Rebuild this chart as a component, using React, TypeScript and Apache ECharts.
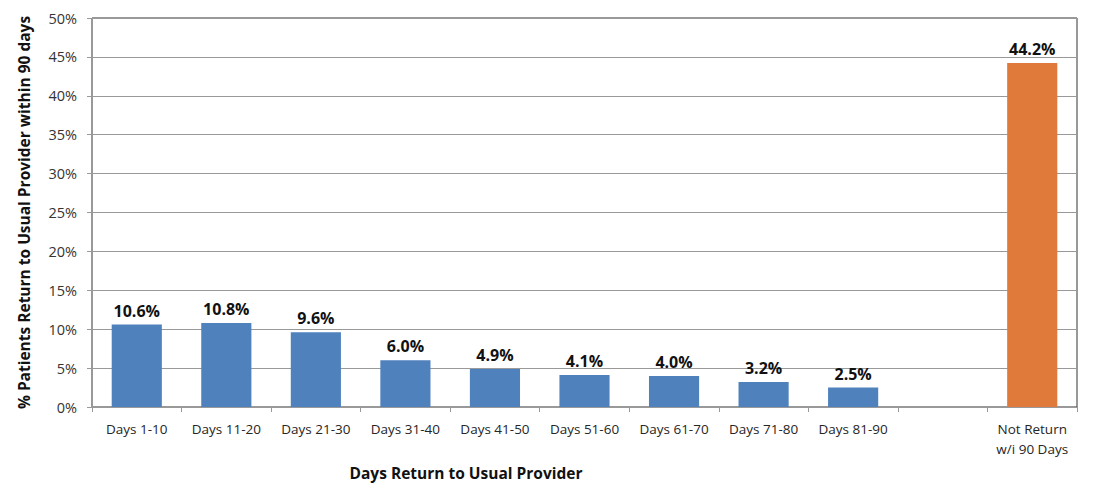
import React, { useEffect, useRef } from "react";
import * as echarts from "echarts";

const categories = [
  "Days 1-10",
  "Days 11-20",
  "Days 21-30",
  "Days 31-40",
  "Days 41-50",
  "Days 51-60",
  "Days 61-70",
  "Days 71-80",
  "Days 81-90",
  "",
  "Not Return\nw/i 90 Days",
];
const values: (number | null)[] = [10.6, 10.8, 9.6, 6.0, 4.9, 4.1, 4.0, 3.2, 2.5, null, 44.2];
const barColors = ["#4F81BD", "#4F81BD", "#4F81BD", "#4F81BD", "#4F81BD", "#4F81BD", "#4F81BD", "#4F81BD", "#4F81BD", "#4F81BD", "#E07A3A"];
const yTicks = { min: 0, max: 50, interval: 5 };

const FONT = "'Open Sans', 'Noto Sans', sans-serif";

export default function App() {
  const ref = useRef<HTMLDivElement>(null);
  useEffect(() => {
    if (!ref.current) return;
    const chart = echarts.init(ref.current, undefined, { renderer: "svg" });
    chart.setOption({
      animation: false,
      backgroundColor: "#fff",
      grid: {
        left: 80,
        right: 15,
        top: 10,
        bottom: 79,
        show: true,
        borderColor: "#333",
        borderWidth: 1,
      },
      xAxis: {
        type: "category",
        data: categories,
        axisLine: { lineStyle: { color: "#999" } },
        axisTick: { show: true, length: 5, lineStyle: { color: "#999" } },
        axisLabel: {
          color: "#262626",
          fontFamily: FONT,
          fontSize: 13.5,
          margin: 12,
          lineHeight: 20,
          interval: 0,
        },
      },
      yAxis: {
        type: "value",
        min: yTicks.min,
        max: yTicks.max,
        interval: yTicks.interval,
        name: "% Patients Return to Usual Provider within 90 days",
        nameLocation: "middle",
        nameGap: 60,
        nameTextStyle: { color: "#111", fontFamily: FONT, fontSize: 15.5, fontWeight: "bold" },
        axisLine: { show: true, lineStyle: { color: "#999" } },
        axisTick: { show: true, length: 5, lineStyle: { color: "#999" } },
        axisLabel: {
          color: "#333",
          fontFamily: FONT,
          fontSize: 14.5,
          margin: 15,
          formatter: (v: number) => v + "%",
        },
        splitLine: { lineStyle: { color: "#999" } },
      },
      graphic: [
        {
          type: "text",
          x: 458,
          y: 465,
          style: {
            text: "Days Return to Usual Provider",
            fill: "#111",
            font: `bold 15.5px ${FONT}`,
            align: "center",
            verticalAlign: "middle",
          },
        },
      ],
      series: [
        {
          type: "bar",
          data: values.map((v, i) => ({ value: v, itemStyle: { color: barColors[i] } })),
          barWidth: "56%",
          label: {
            show: true,
            position: "top",
            distance: 6,
            color: "#111",
            fontFamily: FONT,
            fontSize: 16,
            fontWeight: "bold",
            formatter: (p: any) => (p.value == null ? "" : Number(p.value).toFixed(1) + "%"),
          },
        },
      ],
    });
    return () => chart.dispose();
  }, []);
  return <div ref={ref} style={{ width: 1084, height: 478 }} />;
}
